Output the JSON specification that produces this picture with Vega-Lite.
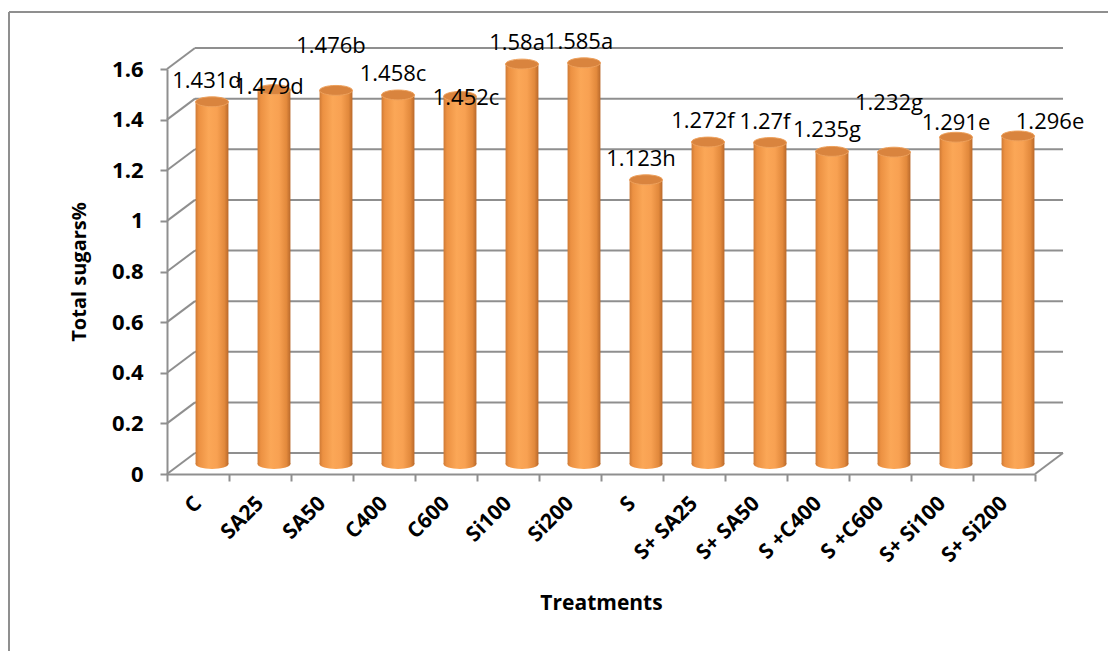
{
  "$schema": "https://vega.github.io/schema/vega-lite/v6.json",
  "width": 1099,
  "height": 639,
  "autosize": {"type": "none"},
  "padding": {"left": 9, "top": 12, "right": 0, "bottom": 0},
  "background": "white",
  "config": {"view": {"stroke": null}, "font": "Open Sans"},
  "datasets": {
    "sugars": [
      {"treatment": "C", "sugar": 1.431, "label": "1.431d"},
      {"treatment": "SA25", "sugar": 1.479, "label": "1.479d"},
      {"treatment": "SA50", "sugar": 1.476, "label": "1.476b"},
      {"treatment": "C400", "sugar": 1.458, "label": "1.458c"},
      {"treatment": "C600", "sugar": 1.452, "label": "1.452c"},
      {"treatment": "Si100", "sugar": 1.58, "label": "1.58a"},
      {"treatment": "Si200", "sugar": 1.585, "label": "1.585a"},
      {"treatment": "S", "sugar": 1.123, "label": "1.123h"},
      {"treatment": "S+ SA25", "sugar": 1.272, "label": "1.272f"},
      {"treatment": "S+ SA50", "sugar": 1.27, "label": "1.27f"},
      {"treatment": "S +C400", "sugar": 1.235, "label": "1.235g"},
      {"treatment": "S +C600", "sugar": 1.232, "label": "1.232g"},
      {"treatment": "S+ Si100", "sugar": 1.291, "label": "1.291e"},
      {"treatment": "S+ Si200", "sugar": 1.296, "label": "1.296e"}
    ],
    "gridValues": [
      {"v": 0}, {"v": 0.2}, {"v": 0.4}, {"v": 0.6}, {"v": 0.8},
      {"v": 1}, {"v": 1.2}, {"v": 1.4}, {"v": 1.6}
    ],
    "frame": [{"edge": "top"}]
  },
  "layer": [
    {
      "description": "back-wall gridlines",
      "data": {"name": "gridValues"},
      "mark": {"type": "rule", "color": "#8f8f8f", "strokeWidth": 2, "xOffset": 28, "x2Offset": 28, "yOffset": -21, "y2Offset": -21},
      "encoding": {
        "x": {
          "datum": "C",
          "bandPosition": 0,
          "type": "nominal",
          "scale": {
            "domain": ["C", "SA25", "SA50", "C400", "C600", "Si100", "Si200", "S", "S+ SA25", "S+ SA50", "S +C400", "S +C600", "S+ Si100", "S+ Si200"],
            "range": [158, 1026],
            "paddingInner": 0,
            "paddingOuter": 0
          },
          "axis": {
            "orient": "bottom",
            "offset": -177,
            "title": "Treatments",
            "titleFont": "Open Sans",
            "titleFontSize": 21,
            "titleFontWeight": "bold",
            "titleColor": "#000000",
            "titlePadding": 27,
            "domainColor": "#8f8f8f",
            "domainWidth": 2,
            "tickColor": "#8f8f8f",
            "tickWidth": 2,
            "tickSize": 7,
            "tickBand": "extent",
            "labelAngle": -45,
            "labelAlign": "right",
            "labelBaseline": "middle",
            "labelFont": "Open Sans",
            "labelFontSize": 21,
            "labelFontWeight": "bold",
            "labelColor": "#000000",
            "labelPadding": 19,
            "grid": false
          }
        },
        "x2": {"datum": "S+ Si200", "bandPosition": 1},
        "y": {
          "field": "v",
          "type": "quantitative",
          "scale": {"domain": [0, 1.6], "range": [462, 57], "nice": false, "zero": true},
          "axis": {
            "orient": "left",
            "offset": -158,
            "values": [0, 0.2, 0.4, 0.6, 0.8, 1, 1.2, 1.4, 1.6],
            "format": "~g",
            "title": "Total sugars%",
            "titleFont": "Open Sans",
            "titleFontSize": 20,
            "titleFontWeight": "bold",
            "titleColor": "#000000",
            "titlePadding": 22,
            "domainColor": "#8f8f8f",
            "domainWidth": 2,
            "tickColor": "#8f8f8f",
            "tickWidth": 2,
            "tickSize": 7,
            "labelFont": "Open Sans",
            "labelFontSize": 22,
            "labelFontWeight": "bold",
            "labelColor": "#000000",
            "labelPadding": 17,
            "grid": false
          }
        },
        "y2": {"field": "v"}
      }
    },
    {
      "description": "left-wall diagonals",
      "data": {"name": "gridValues"},
      "mark": {"type": "rule", "color": "#8f8f8f", "strokeWidth": 2, "x2Offset": 28, "y2Offset": -21},
      "encoding": {
        "x": {"datum": "C", "bandPosition": 0, "type": "nominal"},
        "x2": {"datum": "C", "bandPosition": 0},
        "y": {"field": "v", "type": "quantitative"},
        "y2": {"field": "v"}
      }
    },
    {
      "description": "right edge of the floor",
      "data": {"name": "frame"},
      "mark": {"type": "rule", "color": "#8f8f8f", "strokeWidth": 2, "x2Offset": 28, "y2Offset": -21},
      "encoding": {
        "x": {"datum": "S+ Si200", "bandPosition": 1, "type": "nominal"},
        "x2": {"datum": "S+ Si200", "bandPosition": 1},
        "y": {"datum": 0, "type": "quantitative"},
        "y2": {"datum": 0}
      }
    },
    {
      "description": "rounded cylinder bottoms",
      "data": {"name": "sugars"},
      "mark": {
        "type": "point",
        "filled": true,
        "opacity": 1,
        "xOffset": 14,
        "yOffset": -10,
        "size": 1082,
        "shape": "M -1 0 C -1 -0.1657 -0.5523 -0.3 0 -0.3 C 0.5523 -0.3 1 -0.1657 1 0 C 1 0.1657 0.5523 0.3 0 0.3 C -0.5523 0.3 -1 0.1657 -1 0 Z",
        "fill": {
          "gradient": "linear", "x1": 0, "y1": 0, "x2": 1, "y2": 0,
          "stops": [
            {"offset": 0, "color": "#cf7a35"},
            {"offset": 0.1, "color": "#ec9142"},
            {"offset": 0.4, "color": "#fba757"},
            {"offset": 0.65, "color": "#f8a152"},
            {"offset": 0.88, "color": "#e2893c"},
            {"offset": 1, "color": "#b9692b"}
          ]
        }
      },
      "encoding": {
        "x": {"field": "treatment", "type": "nominal"},
        "y": {"datum": 0, "type": "quantitative"}
      }
    },
    {
      "description": "cylinder bodies",
      "data": {"name": "sugars"},
      "mark": {
        "type": "bar",
        "width": {"band": 0.53},
        "xOffset": 14,
        "yOffset": -10,
        "y2Offset": -10,
        "fill": {
          "gradient": "linear", "x1": 0, "y1": 0, "x2": 1, "y2": 0,
          "stops": [
            {"offset": 0, "color": "#cf7a35"},
            {"offset": 0.1, "color": "#ec9142"},
            {"offset": 0.4, "color": "#fba757"},
            {"offset": 0.65, "color": "#f8a152"},
            {"offset": 0.88, "color": "#e2893c"},
            {"offset": 1, "color": "#b9692b"}
          ]
        }
      },
      "encoding": {
        "x": {"field": "treatment", "type": "nominal"},
        "y": {"field": "sugar", "type": "quantitative"},
        "y2": {"datum": 0}
      }
    },
    {
      "description": "cylinder tops",
      "data": {"name": "sugars"},
      "mark": {
        "type": "point",
        "filled": true,
        "opacity": 1,
        "xOffset": 14,
        "yOffset": -10,
        "size": 1082,
        "shape": "M -1 0 C -1 -0.1657 -0.5523 -0.3 0 -0.3 C 0.5523 -0.3 1 -0.1657 1 0 C 1 0.1657 0.5523 0.3 0 0.3 C -0.5523 0.3 -1 0.1657 -1 0 Z",
        "fill": "#d9843e",
        "stroke": "#eea15c",
        "strokeWidth": 1
      },
      "encoding": {
        "x": {"field": "treatment", "type": "nominal"},
        "y": {"field": "sugar", "type": "quantitative"}
      }
    },
    {
      "description": "value labels with significance letters; a few are nudged so neighbours do not collide",
      "data": {"name": "sugars"},
      "mark": {
        "type": "text",
        "font": "Open Sans",
        "fontSize": 22,
        "color": "#000000",
        "baseline": "middle",
        "align": "center",
        "xOffset": {"expr": "datum.treatment == 'C600' ? 20 : datum.treatment == 'S+ Si200' ? 46 : datum.treatment == 'S+ Si100' ? 14 : 9"},
        "yOffset": {"expr": "datum.treatment == 'SA25' ? -13 : datum.treatment == 'SA50' ? -54 : datum.treatment == 'C600' ? -8 : datum.treatment == 'S +C600' ? -59 : (datum.treatment == 'S+ Si100' || datum.treatment == 'S+ Si200') ? -24 : -31"}
      },
      "encoding": {
        "x": {"field": "treatment", "type": "nominal"},
        "y": {"field": "sugar", "type": "quantitative"},
        "text": {"field": "label"}
      }
    },
    {
      "description": "chart frame, top edge",
      "data": {"name": "frame"},
      "mark": {"type": "rule", "color": "#8f8f8f", "strokeWidth": 2},
      "encoding": {"y": {"value": 0}}
    },
    {
      "description": "chart frame, left edge",
      "data": {"name": "frame"},
      "mark": {"type": "rule", "color": "#8f8f8f", "strokeWidth": 2},
      "encoding": {"x": {"value": 0}}
    }
  ]
}
